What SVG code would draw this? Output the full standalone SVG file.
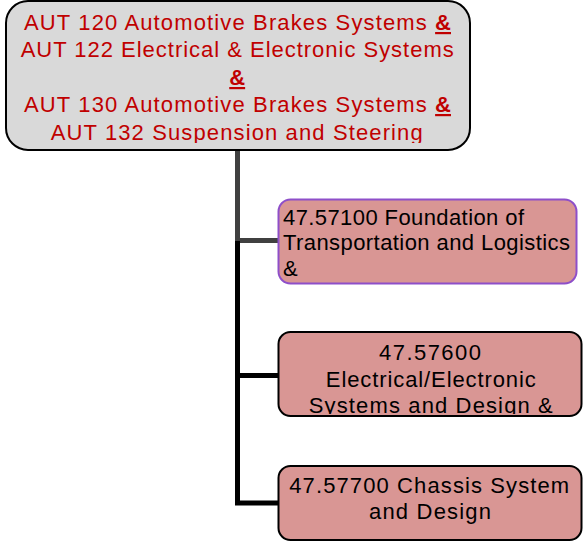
<svg xmlns="http://www.w3.org/2000/svg" width="584" height="542" viewBox="0 0 584 542">
<style>
text{font-family:"Liberation Sans",Arial,sans-serif;font-size:22px}
.red{fill:#c00000}
.blk{fill:#000}
.c{text-anchor:middle}
.box{fill:#d99694;stroke:#000;stroke-width:2}
</style>
<defs>
<clipPath id="c0"><rect x="6" y="1" width="464" height="142"/></clipPath>
<clipPath id="c1"><rect x="278" y="199" width="299" height="84"/></clipPath>
<clipPath id="c2"><rect x="278" y="332" width="304" height="82"/></clipPath>
<clipPath id="c3"><rect x="278" y="466" width="304" height="75"/></clipPath>
</defs>
<g id="connectors" fill="none" stroke-width="5">
<path d="M237.5 150V243" stroke="#404040"/>
<path d="M237.5 240.5H280" stroke="#404040"/>
<path d="M237.5 241V505.5M237.5 375.5H280M237.5 503H280" stroke="#000"/>
</g>
<g id="root">
<rect x="6" y="1" width="464" height="149" rx="22" fill="#d9d9d9" stroke="#000" stroke-width="2"/>
<g clip-path="url(#c0)" class="red">
<text x="237.5" y="30" class="c" textLength="427" lengthAdjust="spacing">AUT 120 Automotive Brakes Systems <tspan font-weight="bold" text-decoration="underline">&amp;</tspan></text>
<text x="237.2" y="57" class="c" textLength="433" lengthAdjust="spacing">AUT 122 Electrical &amp; Electronic Systems</text>
<text x="237.2" y="85" class="c" font-weight="bold" text-decoration="underline">&amp;</text>
<text x="237.5" y="112" class="c" textLength="427" lengthAdjust="spacing">AUT 130 Automotive Brakes Systems <tspan font-weight="bold" text-decoration="underline">&amp;</tspan></text>
<text x="236.7" y="140" class="c" textLength="372" lengthAdjust="spacing">AUT 132 Suspension and Steering</text>
</g>
</g>
<g id="n1">
<rect x="278.5" y="199.5" width="298" height="84" rx="12" fill="#d99694" stroke="#8e4fc9" stroke-width="2"/>
<g clip-path="url(#c1)" class="blk">
<text x="283" y="225" textLength="241" lengthAdjust="spacing">47.57100 Foundation of</text>
<text x="283" y="250" textLength="287" lengthAdjust="spacing">Transportation and Logistics</text>
<text x="283" y="276">&amp;</text>
</g>
</g>
<g id="n2">
<rect x="278.5" y="332" width="303" height="84" rx="12" class="box"/>
<g clip-path="url(#c2)" class="blk">
<text x="430" y="360" class="c" textLength="102" lengthAdjust="spacing">47.57600</text>
<text x="430.8" y="387" class="c" textLength="210" lengthAdjust="spacing">Electrical/Electronic</text>
<text x="430.8" y="413" class="c" textLength="244" lengthAdjust="spacing">Systems and Design &amp;</text>
</g>
</g>
<g id="n3">
<rect x="278.5" y="466" width="303" height="74" rx="12" class="box"/>
<g clip-path="url(#c3)" class="blk">
<text x="429.2" y="493" class="c" textLength="280" lengthAdjust="spacing">47.57700 Chassis System</text>
<text x="430" y="519" class="c" textLength="122" lengthAdjust="spacing">and Design</text>
</g>
</g>
</svg>
